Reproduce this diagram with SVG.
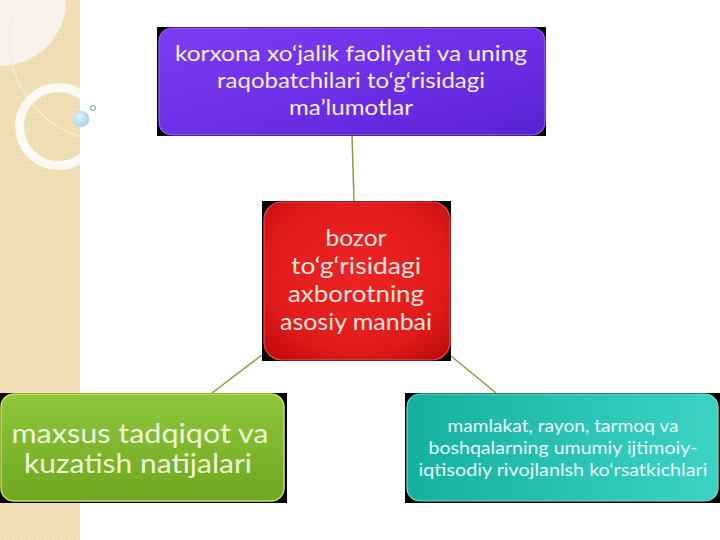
<svg xmlns="http://www.w3.org/2000/svg" width="720" height="540" viewBox="0 0 720 540">
  <style>
    .lbl { font-family: "Lato", "Open Sans", "Liberation Sans", sans-serif; text-anchor: middle; }
    .conn { stroke: #8e9a3e; stroke-width: 1.5; fill: none; }
    .frame { fill: #000; }
  </style>
  <defs>
    <pattern id="dots" width="4" height="4" patternUnits="userSpaceOnUse">
      <rect width="4" height="4" fill="#efdcb1"/>
      <rect x="0" y="0" width="2" height="2" fill="#f2e2bd"/>
    </pattern>
    <clipPath id="stripeClip"><rect x="0" y="0" width="80" height="540"/></clipPath>
    <linearGradient id="gPurple" x1="0" y1="0" x2="1" y2="1">
      <stop offset="0" stop-color="#7d3cf2"/>
      <stop offset="0.6" stop-color="#6a2de6"/>
      <stop offset="1" stop-color="#5a22d4"/>
    </linearGradient>
    <radialGradient id="gRed" cx="0.5" cy="0.45" r="0.7">
      <stop offset="0" stop-color="#ee2424"/>
      <stop offset="0.7" stop-color="#e01a1a"/>
      <stop offset="1" stop-color="#c00c0c"/>
    </radialGradient>
    <linearGradient id="gGreen" x1="0" y1="0" x2="0" y2="1">
      <stop offset="0" stop-color="#8fc83c"/>
      <stop offset="1" stop-color="#6ea620"/>
    </linearGradient>
    <linearGradient id="gTeal" x1="0" y1="0" x2="1" y2="0">
      <stop offset="0" stop-color="#16b09e"/>
      <stop offset="1" stop-color="#3cd3c4"/>
    </linearGradient>
    <radialGradient id="gBubble" cx="0.4" cy="0.35" r="0.7">
      <stop offset="0" stop-color="#e2f4fb"/>
      <stop offset="1" stop-color="#9fd0e8"/>
    </radialGradient>
  </defs>

  <rect x="0" y="0" width="720" height="540" fill="#ffffff"/>

  <!-- left decorative stripe -->
  <g id="decor">
    <rect x="0" y="0" width="80" height="540" fill="url(#dots)"/>
    <g clip-path="url(#stripeClip)">
      <circle cx="0" cy="0" r="66" fill="#fbf3ea"/>
      <circle cx="110" cy="40" r="101" fill="none" stroke="#f8eddb" stroke-width="1.5"/>
      <circle cx="58.5" cy="126.5" r="39" fill="none" stroke="#fdfaf4" stroke-width="9"/>
    </g>
    <circle cx="81" cy="119" r="8" fill="url(#gBubble)" stroke="#bfe2f1" stroke-width="1"/>
    <circle cx="93" cy="108" r="2.5" fill="#ffffff" stroke="#6a9aa8" stroke-width="1"/>
  </g>

  <!-- connectors -->
  <g id="connectors">
    <line class="conn" x1="352" y1="135" x2="354" y2="201"/>
    <line class="conn" x1="262" y1="355" x2="212" y2="393"/>
    <line class="conn" x1="451" y1="356" x2="496" y2="393"/>
  </g>

  <!-- top node -->
  <g id="node-top">
    <rect class="frame" x="157" y="27" width="389" height="109"/>
    <rect x="159" y="28" width="386" height="107" rx="13" fill="url(#gPurple)" stroke="#9268f2" stroke-width="1.2"/>
    <text class="lbl" x="351" y="61" font-size="22" fill="#f4eefc" textLength="352" lengthAdjust="spacingAndGlyphs">korxona xo‘jalik faoliyati va uning</text>
    <text class="lbl" x="351" y="88" font-size="22" fill="#f4eefc" textLength="268" lengthAdjust="spacingAndGlyphs">raqobatchilari to‘g‘risidagi</text>
    <text class="lbl" x="351" y="115" font-size="22" fill="#f4eefc" textLength="124" lengthAdjust="spacingAndGlyphs">ma’lumotlar</text>
  </g>

  <!-- center node -->
  <g id="node-center">
    <rect class="frame" x="262" y="201" width="189" height="160"/>
    <rect x="264" y="202" width="186" height="158" rx="18" fill="url(#gRed)" stroke="#ef4a4a" stroke-width="1.2"/>
    <text class="lbl" x="356" y="246" font-size="24" fill="#fbe4de" textLength="61" lengthAdjust="spacingAndGlyphs">bozor</text>
    <text class="lbl" x="356" y="274" font-size="24" fill="#fbe4de" textLength="130" lengthAdjust="spacingAndGlyphs">to‘g‘risidagi</text>
    <text class="lbl" x="356" y="302" font-size="24" fill="#fbe4de" textLength="136" lengthAdjust="spacingAndGlyphs">axborotning</text>
    <text class="lbl" x="356" y="330" font-size="24" fill="#fbe4de" textLength="152" lengthAdjust="spacingAndGlyphs">asosiy manbai</text>
  </g>

  <!-- bottom-left node -->
  <g id="node-left">
    <rect class="frame" x="0" y="393" width="287" height="110"/>
    <rect x="1" y="394" width="283" height="107" rx="13" fill="url(#gGreen)" stroke="#c9e45a" stroke-width="1.5"/>
    <text class="lbl" x="140" y="443" font-size="27" fill="#eef7dc" textLength="257" lengthAdjust="spacingAndGlyphs">maxsus tadqiqot va</text>
    <text class="lbl" x="138" y="473" font-size="27" fill="#eef7dc" textLength="228" lengthAdjust="spacingAndGlyphs">kuzatish natijalari</text>
  </g>

  <!-- bottom-right node -->
  <g id="node-right">
    <rect class="frame" x="405" y="393" width="315" height="110"/>
    <rect x="407" y="394" width="311" height="107" rx="13" fill="url(#gTeal)" stroke="#72e0d4" stroke-width="1.2"/>
    <text class="lbl" x="563" y="432" font-size="16.5" fill="#e9faf6" textLength="231" lengthAdjust="spacingAndGlyphs">mamlakat, rayon, tarmoq va</text>
    <text class="lbl" x="563" y="454" font-size="16.5" fill="#e9faf6" textLength="269" lengthAdjust="spacingAndGlyphs">boshqalarning umumiy ijtimoiy-</text>
    <text class="lbl" x="563" y="476" font-size="16.5" fill="#e9faf6" textLength="289" lengthAdjust="spacingAndGlyphs">iqtisodiy rivojlanlsh ko‘rsatkichlari</text>
  </g>
</svg>
